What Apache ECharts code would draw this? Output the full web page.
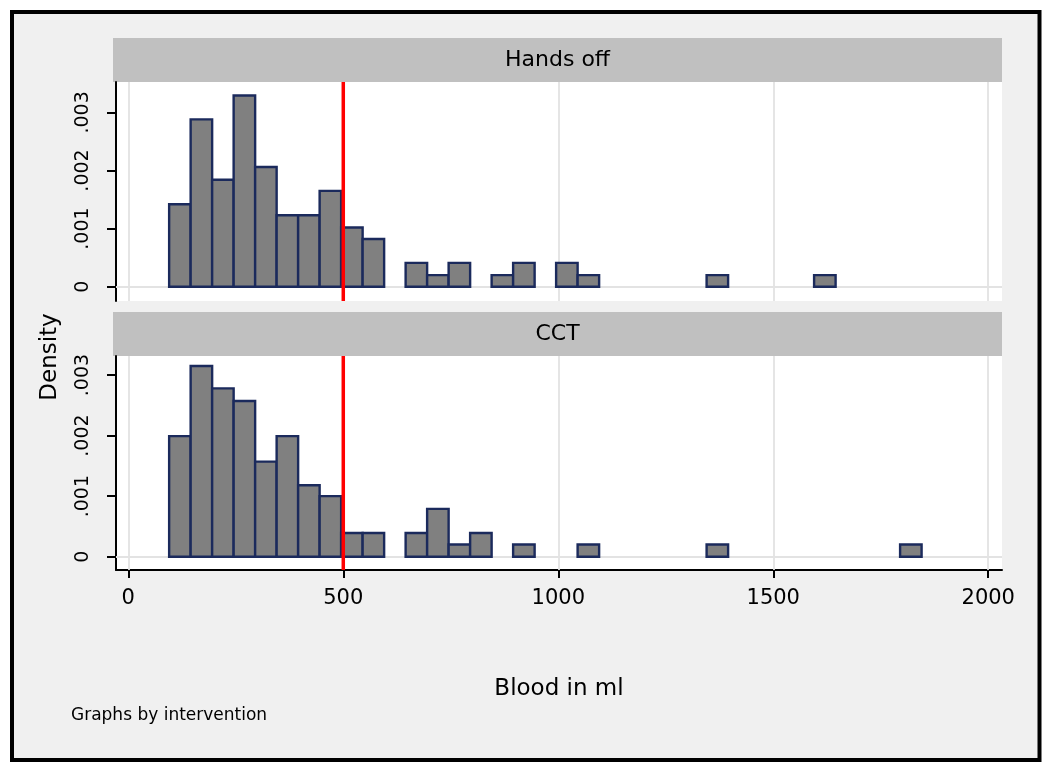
<!DOCTYPE html>
<html>
<head>
<meta charset="utf-8">
<script src="https://cdn.jsdelivr.net/npm/echarts@6/dist/echarts.min.js"></script>
<style>
html, body { margin: 0; padding: 0; background: #ffffff; }
#chart { width: 1050px; height: 769px; }
</style>
</head>
<body>
<div id="chart"></div>
<script>
// ---------------- data ----------------
const panelNames = ['Hands off', 'CCT'];
const binWidth = 50; // ml
const handsOffBinStart = [95, 145, 195, 245, 295, 345, 395, 445, 495, 545, 645, 695, 745, 845, 895, 995, 1045, 1345, 1595];
const handsOffDensity  = [0.00142, 0.00288, 0.00184, 0.00329, 0.00206, 0.00123, 0.00123, 0.00165, 0.00102, 0.00082, 0.00041, 0.00020, 0.00041, 0.00020, 0.00041, 0.00041, 0.00020, 0.00020, 0.00020];
const cctBinStart = [95, 145, 195, 245, 295, 345, 395, 445, 495, 545, 645, 695, 745, 795, 895, 1045, 1345, 1795];
const cctDensity  = [0.00199, 0.00315, 0.00278, 0.00257, 0.00157, 0.00199, 0.00118, 0.00100, 0.00039, 0.00039, 0.00039, 0.00079, 0.00020, 0.00039, 0.00020, 0.00020, 0.00020, 0.00020];
const xTickValues = [0, 500, 1000, 1500, 2000];
const xTickLabels = ['0', '500', '1000', '1500', '2000'];
const yTickValues = [0, 0.001, 0.002, 0.003];
const yTickLabels = ['0', '.001', '.002', '.003'];
const referenceLine = 500;
const xTitle = 'Blood in ml';
const yTitle = 'Density';
const noteText = 'Graphs by intervention';

// ---------------- chart ----------------
const FONT = '"DejaVu Sans", Arial, sans-serif';
const chart = echarts.init(document.getElementById('chart'), null, { renderer: 'canvas' });

function barData(starts, dens) {
  return starts.map((s, i) => [s, s + binWidth, dens[i]]);
}
function labelFor(values, labels) {
  return function (v) {
    const i = values.findIndex(t => Math.abs(t - v) < 1e-9);
    return i >= 0 ? labels[i] : '';
  };
}

const panels = [
  { data: barData(handsOffBinStart, handsOffDensity), top: 82, height: 219, yMin: -0.000246, yMax: 0.003523 },
  { data: barData(cctBinStart, cctDensity), top: 356, height: 214, yMin: -0.00022, yMax: 0.003314 }
];

const grids = panels.map(p => ({
  left: 116, width: 886, top: p.top, height: p.height,
  show: true, backgroundColor: '#ffffff', borderWidth: 0
}));

const xAxes = panels.map((p, i) => {
  const bottom = i === panels.length - 1;
  return {
    type: 'value', gridIndex: i, min: -28.6, max: 2032,
    splitLine: { show: false },
    axisLine: { show: bottom, onZero: false, lineStyle: { color: '#000', width: 2 } },
    axisTick: { show: bottom, customValues: xTickValues, length: 8, lineStyle: { color: '#000', width: 2 } },
    axisLabel: {
      show: bottom, customValues: xTickValues, formatter: labelFor(xTickValues, xTickLabels),
      fontSize: 21, fontFamily: FONT, color: '#000', margin: 18
    },
    name: bottom ? xTitle : '',
    nameLocation: 'middle', nameGap: 108,
    nameTextStyle: { fontSize: 23, fontFamily: FONT, color: '#000' }
  };
});

const yAxes = panels.map((p, i) => ({
  type: 'value', gridIndex: i, min: p.yMin, max: p.yMax,
  splitLine: { show: false },
  axisLine: { show: true, onZero: false, lineStyle: { color: '#000', width: 2 } },
  axisTick: { show: true, customValues: yTickValues, length: 9, lineStyle: { color: '#000', width: 2 } },
  axisLabel: {
    show: true, customValues: yTickValues, formatter: labelFor(yTickValues, yTickLabels),
    rotate: 90, fontSize: 19, fontFamily: FONT, color: '#000', margin: 23
  }
}));

const gridLineData = xTickValues.map(v => ({ xAxis: v })).concat(yTickValues.map(v => ({ yAxis: v })));

const series = [];
panels.forEach((p, i) => {
  series.push({
    type: 'custom', xAxisIndex: i, yAxisIndex: i, z: 2,
    encode: { x: [0, 1], y: 2 },
    data: p.data,
    renderItem: function (params, api) {
      const a = api.coord([api.value(0), api.value(2)]);
      const b = api.coord([api.value(1), 0]);
      return {
        type: 'rect',
        shape: { x: a[0], y: a[1], width: b[0] - a[0], height: b[1] - a[1] },
        style: { fill: '#808080', stroke: '#1b2a5c', lineWidth: 2.4 }
      };
    },
    markLine: {
      z: 1, silent: true, symbol: 'none', animation: false,
      label: { show: false },
      lineStyle: { color: '#e3e3e3', width: 1.8, type: 'solid' },
      data: gridLineData
    },
    animation: false
  });
  series.push({
    type: 'custom', xAxisIndex: i, yAxisIndex: i, z: 4,
    encode: { x: 0, y: 1 },
    data: [[referenceLine, 0]],
    renderItem: function (params, api) {
      const cs = params.coordSys;
      const px = api.coord([api.value(0), 0])[0];
      return {
        type: 'line',
        shape: { x1: px, y1: cs.y, x2: px, y2: cs.y + cs.height },
        style: { stroke: '#ff0000', lineWidth: 3.5 }
      };
    },
    animation: false
  });
});

const graphics = [
  { type: 'rect', z: -10, silent: true, shape: { x: 12, y: 12, width: 1027.5, height: 748 },
    style: { fill: '#f0f0f0', stroke: '#000', lineWidth: 4 } }
];
panels.forEach((p, i) => {
  graphics.push({ type: 'rect', z: -5, silent: true, shape: { x: 113, y: p.top - 44, width: 889, height: 44 },
    style: { fill: '#c0c0c0' } });
  graphics.push({ type: 'text', z: 10, silent: true, x: 557.5, y: p.top - 22,
    style: { text: panelNames[i], font: '22px ' + FONT, fill: '#000', align: 'center', verticalAlign: 'middle' } });
});
graphics.push({ type: 'text', silent: true, x: 50, y: 357, rotation: Math.PI / 2,
  style: { text: yTitle, font: '23px ' + FONT, fill: '#000', align: 'center', verticalAlign: 'middle' } });
graphics.push({ type: 'text', silent: true, x: 71, y: 716,
  style: { text: noteText, font: '17px ' + FONT, fill: '#000', align: 'left', verticalAlign: 'middle' } });

chart.setOption({
  backgroundColor: '#ffffff',
  animation: false,
  grid: grids,
  xAxis: xAxes,
  yAxis: yAxes,
  series: series,
  graphic: { elements: graphics }
});
</script>
</body>
</html>
